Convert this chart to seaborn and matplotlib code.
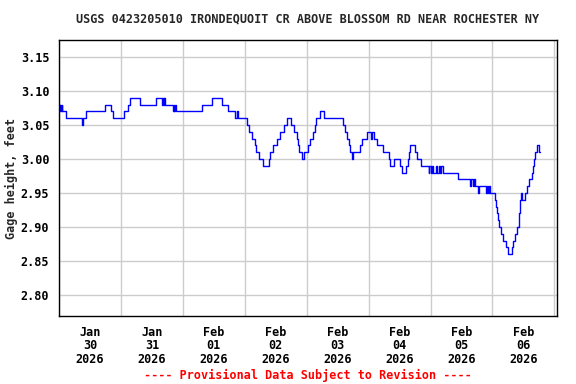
import pandas as pd
import matplotlib
matplotlib.use('Agg')
import matplotlib.pyplot as plt
import matplotlib.dates as mdates
import seaborn as sns

# gage height change points, hours after 2026-01-30 00:00 (step data)
start = pd.Timestamp('2026-01-30 00:00')
hours = [0.0, 0.25, 0.5, 0.75, 1.0, 1.25, 2.75, 8.9, 9.2, 10.65,
         18.0, 20.3, 21.1, 25.1, 26.8, 27.7, 31.3, 37.4, 40.0, 40.25,
         40.5, 40.75, 41.0, 44.0, 44.5, 44.75, 45.0, 45.3, 55.5, 59.3,
         63.2, 65.4, 68.4, 69.0, 69.25, 73.0, 73.8, 74.9, 75.8, 76.5,
         77.5, 79.2, 81.25, 81.9, 82.8, 84.5, 85.8, 87.1, 88.4, 90.1,
         91.2, 92.25, 92.6, 93.1, 94.2, 94.8, 96.5, 97.4, 98.3, 99.1,
         99.7, 101.0, 102.6, 110.0, 111.0, 111.6, 112.2, 112.9, 113.6, 113.9,
         116.5, 117.4, 119.4, 120.9, 121.2, 121.9, 123.2, 125.6, 127.7, 128.4,
         129.7, 132.3, 133.0, 134.5, 135.1, 135.75, 136.1, 137.8, 138.8, 140.4,
         143.2, 143.5, 144.0, 144.5, 145.0, 146.0, 146.5, 147.2, 147.7, 148.2,
         149.0, 154.6, 159.4, 159.7, 160.5, 160.8, 161.4, 162.4, 162.7, 165.4,
         165.7, 166.2, 166.5, 167.0, 169.1, 169.4, 169.9, 170.3, 170.7, 171.3,
         171.9, 173.3, 174.2, 175.5, 176.1, 176.8, 177.5, 178.1, 178.5, 179.0,
         179.4, 180.7, 181.3, 182.3, 183.3, 183.6, 183.9, 184.5, 185.2, 186.0,
         186.25]
gage_ft = [3.08, 3.07, 3.08, 3.07, 3.08, 3.07, 3.06, 3.05, 3.06, 3.07,
           3.08, 3.07, 3.06, 3.07, 3.08, 3.09, 3.08, 3.09, 3.08, 3.09,
           3.08, 3.09, 3.08, 3.07, 3.08, 3.07, 3.08, 3.07, 3.08, 3.09,
           3.08, 3.07, 3.06, 3.07, 3.06, 3.05, 3.04, 3.03, 3.02, 3.01,
           3.00, 2.99, 3.00, 3.01, 3.02, 3.03, 3.04, 3.05, 3.06, 3.05,
           3.04, 3.03, 3.02, 3.01, 3.00, 3.01, 3.02, 3.03, 3.04, 3.05,
           3.06, 3.07, 3.06, 3.05, 3.04, 3.03, 3.02, 3.01, 3.00, 3.01,
           3.02, 3.03, 3.04, 3.03, 3.04, 3.03, 3.02, 3.01, 3.00, 2.99,
           3.00, 2.99, 2.98, 2.99, 3.00, 3.01, 3.02, 3.01, 3.00, 2.99,
           2.98, 2.99, 2.98, 2.99, 2.98, 2.99, 2.98, 2.99, 2.98, 2.99,
           2.98, 2.97, 2.96, 2.97, 2.96, 2.97, 2.96, 2.95, 2.96, 2.95,
           2.96, 2.95, 2.96, 2.95, 2.94, 2.93, 2.92, 2.91, 2.90, 2.89,
           2.88, 2.87, 2.86, 2.87, 2.88, 2.89, 2.90, 2.92, 2.94, 2.95,
           2.94, 2.95, 2.96, 2.97, 2.98, 2.99, 3.00, 3.01, 3.02, 3.01,
           3.01]

yticks = [2.80, 2.85, 2.90, 2.95, 3.00, 3.05, 3.10, 3.15]
label_days = pd.date_range('2026-01-30 12:00', periods=8, freq='D')
title = 'USGS 0423205010 IRONDEQUOIT CR ABOVE BLOSSOM RD NEAR ROCHESTER NY'
footer = '---- Provisional Data Subject to Revision ----'

df = pd.DataFrame({'time': start + pd.to_timedelta(hours, unit='h'),
                   'gage': gage_ft})

fs = 8.5
sns.set_theme(style='white')
plt.rcParams['font.family'] = ['DejaVu Sans Mono']
plt.rcParams['font.weight'] = 'bold'
plt.rcParams['font.size'] = fs
plt.rcParams['xtick.labelsize'] = fs
plt.rcParams['ytick.labelsize'] = fs
plt.rcParams['axes.labelsize'] = fs
plt.rcParams['axes.labelweight'] = 'bold'

fig = plt.figure(figsize=(5.76, 3.84), dpi=100)
ax = fig.add_axes([59/576, 68/384, 498/576, 276/384])

sns.lineplot(data=df, x='time', y='gage', ax=ax, color='#0000ff',
             linewidth=1.0, drawstyle='steps-post', estimator=None)

ax.set_xlim(start, start + pd.Timedelta(hours=193))
ax.set_ylim(2.769, 3.175)
ax.set_yticks(yticks)
ax.set_yticklabels([f'{v:.2f}' for v in yticks], fontsize=fs)
ax.set_xticks(label_days)
ax.set_xticklabels([d.strftime('%b\n%d\n%Y') for d in label_days],
                   linespacing=1.05, fontsize=fs)
ax.xaxis.set_minor_locator(mdates.DayLocator())
ax.tick_params(axis='both', which='both', length=0, colors='black')
ax.tick_params(axis='x', pad=7)
ax.tick_params(axis='y', pad=7)

ax.grid(False)
ax.grid(True, axis='x', which='minor', color='#cccccc', linewidth=1)
ax.grid(True, axis='y', which='major', color='#cccccc', linewidth=1)
for s in ax.spines.values():
    s.set_color('black')
    s.set_linewidth(1)

ax.set_xlabel('')
ax.set_ylabel('Gage height, feet', fontsize=fs, fontweight='bold')
ax.yaxis.set_label_coords(-0.082, 0.5)
fig.text(308/576, 1 - 19/384, title, ha='center', va='center')
fig.text(308/576, 1 - 375/384, footer, ha='center', va='center', color='red')

fig.savefig('out.png', dpi=100)
